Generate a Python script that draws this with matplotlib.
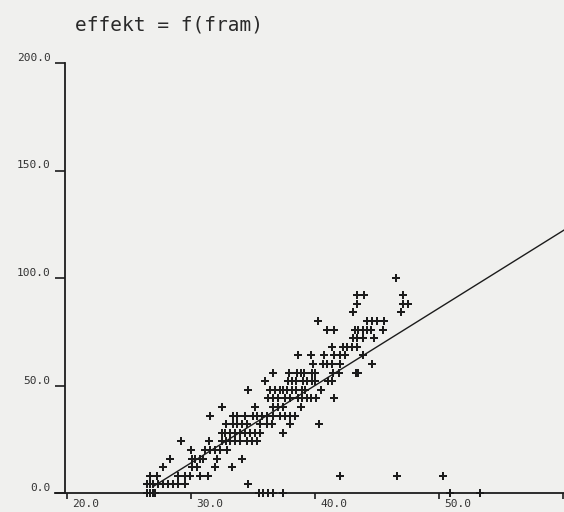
import matplotlib
matplotlib.use("Agg")
import matplotlib.pyplot as plt
import matplotlib.transforms as mtrans
import numpy as np

row_effekt = [0, 4, 8, 12, 16, 20, 24, 28, 32, 36, 40, 44, 48, 52, 56,
              60, 64, 68, 72, 76, 80, 84, 88, 92, 100]
row_fram = [
    [26.45, 26.7, 26.95, 27.1, 35.5, 35.8, 36.2, 36.6, 37.4, 50.9, 53.3],
    [26.45, 26.7, 26.95, 27.35, 27.75, 28.15, 28.55, 28.95, 29.5, 34.6],
    [26.7, 27.25, 28.95, 29.5, 29.9, 30.75, 31.35, 42.0, 46.6, 50.3],
    [27.75, 30.1, 30.5, 31.95, 33.3],
    [28.3, 30.1, 30.3, 30.75, 30.95, 32.1, 34.1],
    [30.0, 31.15, 31.55, 31.95, 32.35, 32.9],
    [29.2, 31.45, 32.5, 32.8, 33.15, 33.55, 33.95, 34.5, 34.9, 35.3],
    [32.5, 32.75, 33.15, 33.55, 33.95, 34.35, 34.75, 35.15, 35.55, 37.4],
    [32.8, 33.4, 33.7, 34.1, 34.5, 35.55, 36.15, 36.55, 38.0, 40.3],
    [31.55, 33.4, 33.7, 34.35, 35.0, 35.3, 35.75, 36.15, 36.6, 37.2, 37.6,
     38.0, 38.4],
    [32.5, 35.15, 36.6, 37.0, 37.4, 38.85],
    [36.2, 36.6, 37.0, 37.6, 38.0, 38.6, 38.95, 39.35, 39.7, 40.1, 41.5],
    [34.6, 36.35, 36.75, 37.2, 37.4, 37.75, 38.15, 38.45, 38.95, 39.2, 40.5],
    [36.0, 37.8, 38.15, 38.45, 39.05, 39.35, 39.75, 40.0, 41.05, 41.4],
    [36.6, 37.9, 38.55, 38.85, 39.1, 39.75, 40.0, 41.45, 41.95, 43.3, 43.45],
    [39.85, 40.65, 40.95, 41.35, 42.0, 44.6],
    [38.65, 39.7, 40.7, 41.55, 42.0, 42.4, 43.85],
    [41.35, 42.25, 42.6, 43.0, 43.4],
    [43.05, 43.4, 43.85, 44.75],
    [40.95, 41.55, 43.2, 43.45, 43.85, 44.2, 44.5, 45.5],
    [40.25, 44.2, 44.6, 45.0, 45.55],
    [43.05, 46.95],
    [43.4, 47.1, 47.5],
    [43.4, 43.95, 47.1],
    [46.55],
]

# regression line effekt = a*fram + b
line_fram = [27.0, 61.0]
slope = 3.6
intercept = -94.0

xticks = [20, 30, 40, 50, 60]
xtick_labels = ["20.0", "30.0", "40.0", "50.0", ""]
yticks = [0, 50, 100, 150, 200]
ytick_labels = ["0.0", "50.0", "100.0", "150.0", "200.0"]

fram = np.concatenate([np.array(r, dtype=float) for r in row_fram])
effekt = np.concatenate([np.full(len(r), e, dtype=float)
                         for r, e in zip(row_fram, row_effekt)])

paper = "#f0f0ee"
ink = "#1c1c1c"

fig = plt.figure(figsize=(5.64, 5.12), dpi=100)
fig.patch.set_facecolor(paper)
ax = fig.add_axes([54.6 / 564, 19 / 512, 1 - 54.6 / 564, (493 - 63) / 512])
ax.patch.set_alpha(0)
ax.set_xlim(19.0, 60.08)
ax.set_ylim(0, 200)

for s in ["top", "right"]:
    ax.spines[s].set_visible(False)
ax.spines["left"].set_position(("data", 19.8))
ax.spines["left"].set_bounds(0, 200)
for s in ["left", "bottom"]:
    ax.spines[s].set_color(ink)
    ax.spines[s].set_linewidth(1.3)

ax.scatter(fram, effekt, marker="P", s=30, color=ink, linewidths=0,
           clip_on=False, zorder=3)

lx = np.array(line_fram)
ax.plot(lx, slope * lx + intercept, color=ink, lw=1.0, zorder=2)

mono = "DejaVu Sans Mono"
ax.set_xticks(xticks)
ax.set_xticklabels(xtick_labels, family=mono, fontsize=8, color="#333333")
ax.set_yticks(yticks)
ax.set_yticklabels(ytick_labels, family=mono, fontsize=8, color="#333333")
ax.tick_params(axis="both", direction="out", color=ink, width=1.2)
ax.tick_params(axis="y", length=7, pad=3)
ax.tick_params(axis="x", length=4, pad=0.3)

# labels sit to the right of x ticks and above y ticks
dx = mtrans.ScaledTranslation(19 / 100, 0, fig.dpi_scale_trans)
dy = mtrans.ScaledTranslation(0, 6 / 100, fig.dpi_scale_trans)
for lab in ax.get_xticklabels():
    lab.set_transform(lab.get_transform() + dx)
for lab in ax.get_yticklabels():
    lab.set_transform(lab.get_transform() + dy)

fig.text(75 / 564, 1 - 25 / 512, "effekt = f(fram)", family=mono,
         fontsize=14, va="center", ha="left", color="#2a2a2a")

fig.savefig("out.png", dpi=100, facecolor=paper)
